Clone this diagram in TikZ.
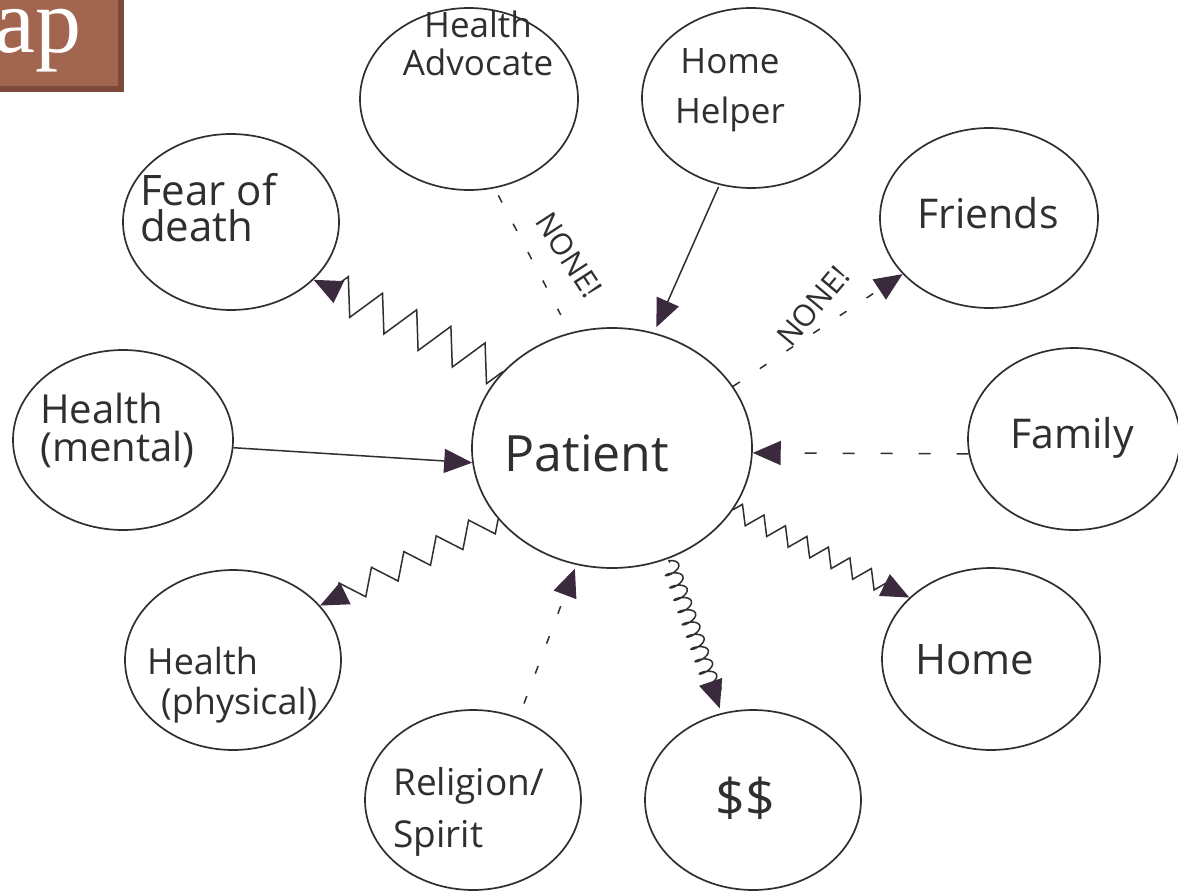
\documentclass[tikz,border=0pt]{standalone}
\usepackage{fontspec}
\newfontfamily\hand{Open Sans}
\newfontfamily\titlef{Liberation Serif}
\usetikzlibrary{shapes.geometric,arrows.meta,decorations.pathmorphing}
\definecolor{ink}{HTML}{2F2F2F}
\definecolor{tipc}{HTML}{3B2A3E}
\definecolor{boxc}{HTML}{A2654F}
\definecolor{boxd}{HTML}{7B4A3A}
\begin{document}
\begin{tikzpicture}[x=1pt,y=1pt,
  bub/.style={ellipse, draw=ink, line width=1.7pt, inner sep=0pt, minimum width=216pt, minimum height=180pt},
  lbl/.style={text=ink, align=center, inner sep=0pt},
  con/.style={draw=ink, line width=1.5pt},
  tip/.style={-{Triangle[length=28pt,width=24pt,color=tipc]}},
  dsh/.style={dash pattern=on 8pt off 24pt},
  dshb/.style={dash pattern=on 12pt off 26pt},
  zzbig/.style={decorate, decoration={zigzag, segment length=38pt, amplitude=18pt, post length=10pt}},
  zzmid/.style={decorate, decoration={zigzag, segment length=36pt, amplitude=12pt, post length=10pt}},
  zzsmall/.style={decorate, decoration={zigzag, segment length=24pt, amplitude=9pt, post length=10pt}},
  coily/.style={decorate, decoration={coil, segment length=13pt, amplitude=8pt, aspect=0.4, pre length=2pt, post length=10pt}}
]
\useasboundingbox (0,0) rectangle (1178,-891);
\fill[white] (0,0) rectangle (1178,-891);

% title box
\fill[boxd] (0,0) rectangle (124,-92);
\fill[boxc] (0,0) rectangle (118,-86);
\node[anchor=base east, text=white, inner sep=0pt, font=\titlef\fontsize{92}{92}\selectfont] (title) at (82,-53) {ap};

% bubbles
\node[bub, minimum width=280pt, minimum height=240pt] (patient) at (612,-448) {};
\node[bub, minimum width=218pt, minimum height=182pt] (adv) at (469,-99) {};
\node[bub, minimum width=218pt, minimum height=180pt] (helper) at (751,-98) {};
\node[bub, minimum height=176pt] (fear) at (231,-222) {};
\node[bub, minimum width=218pt] (friends) at (989,-218) {};
\node[bub, minimum width=220pt] (mental) at (123,-440) {};
\node[bub, minimum width=212pt, minimum height=182pt] (family) at (1074,-439) {};
\node[bub] (physical) at (233,-660) {};
\node[bub, minimum width=218pt, minimum height=182pt] (home) at (991,-659) {};
\node[bub] (religion) at (473,-800) {};
\node[bub] (money) at (753,-800) {};

% labels
\node[lbl, font=\hand\fontsize{35}{38}\selectfont] (tadv) at (478,-43) {Health\\Advocate};
\node[lbl, font=\hand\fontsize{35}{50}\selectfont] (thelper) at (730,-90) {Home\\Helper};
\node[lbl, align=left, anchor=west, font=\hand\fontsize{42}{36}\selectfont] (tfear) at (140,-208) {Fear of\\death};
\node[lbl, align=left, anchor=west, font=\hand\fontsize{40}{38}\selectfont] (tmental) at (40,-430) {Health\\(mental)};
\node[lbl, font=\hand\fontsize{41}{41}\selectfont] (tfriends) at (988,-213) {Friends};
\node[lbl, font=\hand\fontsize{41}{41}\selectfont] (tfamily) at (1072,-438) {Family};
\node[lbl, font=\hand\fontsize{50}{50}\selectfont] (tpatient) at (587,-453) {Patient};
\node[lbl, align=left, anchor=west, font=\hand\fontsize{36}{40}\selectfont] (tphys) at (147,-685) {Health\\\hspace*{14pt}(physical)};
\node[lbl, align=left, anchor=west, font=\hand\fontsize{37}{52}\selectfont] (trel) at (393,-812) {Religion/\\Spirit};
\node[lbl, font=\hand\fontsize{42}{42}\selectfont] (thome) at (975,-660) {Home};
\node[lbl, font=\hand\fontsize{52}{52}\selectfont] (tmoney) at (745,-798) {\$\$};
\node[lbl, rotate=-57, font=\hand\fontsize{30}{30}\selectfont] (none1) at (569,-255) {NONE!};
\node[lbl, rotate=50, font=\hand\fontsize{30}{30}\selectfont] (none2) at (813,-306) {NONE!};

% connectors
\draw[con, tip, zzbig] (patient.145) -- (fear.-35);
\draw[con, dsh, shorten <=8pt, shorten >=20pt] (adv.-74) -- (patient.110);
\draw[con, tip, shorten <=2pt, shorten >=6pt] (helper.-110) -- (patient.70);
\draw[con, dsh, tip] (patient.27) -- (friends.-147);
\draw[con, tip] (mental.-4) -- (patient.186);
\draw[con, dshb, tip] (family.188) -- (patient.-2);
\draw[con, tip, zzsmall] (patient.-27) -- (home.143);
\draw[con, tip, zzmid] (patient.212) -- (physical.32);
\draw[con, dsh, tip, shorten <=15pt, shorten >=4pt] (religion.61) -- (patient.253);
\draw[con, tip, coily, shorten <=4pt, shorten >=5pt] (patient.-63) -- (money.110);
\end{tikzpicture}
\end{document}
